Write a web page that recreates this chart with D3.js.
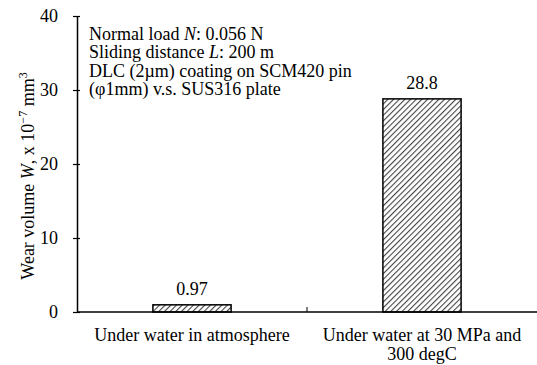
<!DOCTYPE html>
<html>
<head>
<meta charset="utf-8">
<script src="https://cdn.jsdelivr.net/npm/d3@7"></script>
<style>
  body { margin: 0; background: #fff; }
  svg { display: block; }
  svg text { font-family: "Liberation Serif", "Times New Roman", serif; fill: #000; }
</style>
</head>
<body>
<svg id="chart" width="537" height="365"></svg>
<script>
// data
const categories = ["Under water in atmosphere", "Under water at 30 MPa and 300 degC"];
const wearValues = [0.97, 28.8];
const valueLabels = ["0.97", "28.8"];
const yTicks = [0, 10, 20, 30, 40];
const noteLines = [
  [["Normal load ", false], ["N", true], [": 0.056 N", false]],
  [["Sliding distance ", false], ["L", true], [": 200 m", false]],
  [["DLC (2\u00b5m) coating on SCM420 pin", false]],
  [["(\u03c61mm) v.s. SUS316 plate", false]]
];

const plotLeft = 77, plotRight = 537, plotTop = 16, plotBottom = 312;
const svg = d3.select("#chart");

const x = d3.scaleBand().domain(categories).range([plotLeft, plotRight]).paddingInner(0.66).paddingOuter(0.33);
const y = d3.scaleLinear().domain([0, 40]).range([plotBottom, plotTop]);

// hatch pattern
const defs = svg.append("defs");
const pat = defs.append("pattern")
  .attr("id", "hatch")
  .attr("patternUnits", "userSpaceOnUse")
  .attr("width", 4).attr("height", 4)
  .attr("patternTransform", "rotate(45)");
pat.append("rect").attr("width", 4).attr("height", 4).attr("fill", "#fff");
pat.append("line").attr("x1", 0).attr("y1", 0).attr("x2", 0).attr("y2", 4)
  .attr("stroke", "#444").attr("stroke-width", 2.2);

// bars
svg.append("g").selectAll("rect")
  .data(wearValues)
  .enter().append("rect")
  .attr("x", (d, i) => x(categories[i]))
  .attr("width", x.bandwidth())
  .attr("y", d => y(d))
  .attr("height", d => y(0) - y(d))
  .attr("fill", "url(#hatch)")
  .attr("stroke", "#000")
  .attr("stroke-width", 1.5);

// value labels
svg.append("g").selectAll("text")
  .data(wearValues)
  .enter().append("text")
  .attr("x", (d, i) => x(categories[i]) + x.bandwidth() / 2)
  .attr("y", d => y(d) - 10)
  .attr("text-anchor", "middle")
  .attr("font-size", 18)
  .text((d, i) => valueLabels[i]);

// y axis
const yAxis = svg.append("g")
  .attr("transform", "translate(" + plotLeft + ",0)")
  .call(d3.axisLeft(y).tickValues(yTicks).tickSize(0).tickPadding(19));
yAxis.attr("font-family", null).attr("font-size", null);
yAxis.select(".domain").attr("stroke-width", 1.5);
yAxis.selectAll("text").attr("font-size", 18).attr("fill", "#000");
yAxis.selectAll(".tick").append("line")
  .attr("x1", -4).attr("x2", 3).attr("stroke", "#000").attr("stroke-width", 1.2);

// x axis
const xAxis = svg.append("g")
  .attr("transform", "translate(0," + plotBottom + ")");
xAxis.append("line").attr("x1", plotLeft).attr("x2", plotRight).attr("stroke", "#000").attr("stroke-width", 1.5);
const step = x.step();
xAxis.append("line")
  .attr("x1", x(categories[0]) + x.bandwidth() / 2 + step / 2)
  .attr("x2", x(categories[0]) + x.bandwidth() / 2 + step / 2)
  .attr("y1", 0).attr("y2", -5).attr("stroke", "#000").attr("stroke-width", 1);

// category labels, wrapped like the original
const catLines = [[categories[0]], ["Under water at 30 MPa and", "300 degC"]];
catLines.forEach((lines, i) => {
  const cx = x(categories[i]) + x.bandwidth() / 2;
  lines.forEach((t, j) => {
    svg.append("text")
      .attr("x", cx).attr("y", 341 + j * 19)
      .attr("text-anchor", "middle")
      .attr("font-size", 18)
      .text(t);
  });
});

// y title
const yt = svg.append("text")
  .attr("transform", "translate(34,176) rotate(-90)")
  .attr("text-anchor", "middle")
  .attr("font-size", 18);
yt.append("tspan").text("Wear volume ");
yt.append("tspan").attr("font-style", "italic").text("W");
yt.append("tspan").text(", x 10");
yt.append("tspan").attr("font-size", 12).attr("dy", -7).text("\u22127");
yt.append("tspan").attr("dy", 7).text(" mm");
yt.append("tspan").attr("font-size", 12).attr("dy", -7).text("3");

// note block
noteLines.forEach((parts, i) => {
  const t = svg.append("text").attr("x", 89).attr("y", 40 + i * 18.4).attr("font-size", 18);
  parts.forEach(p => {
    t.append("tspan").attr("font-style", p[1] ? "italic" : null).text(p[0]);
  });
});
</script>
</body>
</html>
